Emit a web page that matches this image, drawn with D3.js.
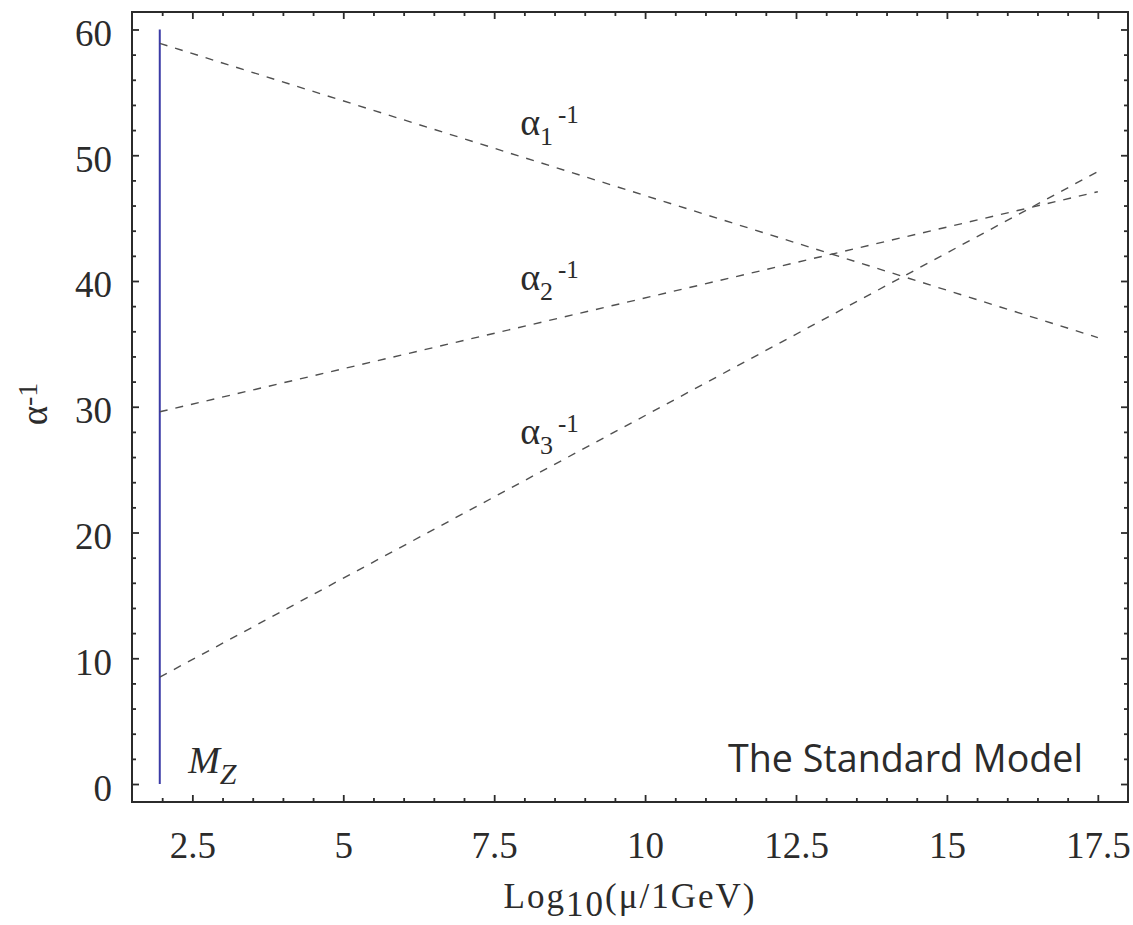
<!DOCTYPE html>
<html>
<head>
<meta charset="utf-8">
<script src="https://cdn.jsdelivr.net/npm/d3@7"></script>
<style>
  html, body { margin: 0; padding: 0; background: #ffffff; }
  svg { display: block; }
  .serif { font-family: "Liberation Serif", "Times New Roman", Times, serif; }
  .sans { font-family: "Open Sans", "Noto Sans", sans-serif; }
</style>
</head>
<body>
<script>
// ---------------- data ----------------
const scaleEnds = [1.96, 17.5];            // Log10(mu/1GeV) at M_Z and at the right end
const alpha1Inv = [58.9, 35.5];
const alpha2Inv = [29.6, 47.1];
const alpha3Inv = [8.5, 48.7];
const mzPosition = 1.96;
const mzRange = [0, 60];
const xMajorTicks = [2.5, 5, 7.5, 10, 12.5, 15, 17.5];
const yMajorTicks = [0, 10, 20, 30, 40, 50, 60];
const seriesLabels = [
  { sub: "1", x: 7.93, y: 51.6 },
  { sub: "2", x: 7.93, y: 39.3 },
  { sub: "3", x: 7.93, y: 27.0 }
];

// ---------------- layout ----------------
const W = 1133, H = 925;
const plot = { left: 132, top: 12, right: 1128, bottom: 802 };
const ink = "#2b2b2b";

const svg = d3.select("body").append("svg").attr("width", W).attr("height", H);

const x = d3.scaleLinear().domain([1.5, 18]).range([plot.left, plot.right]);
const y = d3.scaleLinear().domain([-1.43, 61.39]).range([plot.bottom, plot.top]);

const xMinor = d3.range(2, 17.51, 0.5).filter(v => !xMajorTicks.includes(v));
const yMinor = d3.range(0, 60.1, 2).filter(v => !yMajorTicks.includes(v));

function styleAxis(g) {
  g.attr("font-family", null).attr("font-size", null);
  g.select(".domain").remove();
  g.selectAll(".tick line").attr("stroke", ink).attr("stroke-width", 1.8);
  g.selectAll(".tick text").attr("fill", ink).attr("class", "serif").style("font-size", "37px");
}

// bottom
svg.append("g").attr("transform", `translate(0,${plot.bottom})`)
  .call(d3.axisBottom(x).tickValues(xMajorTicks).tickSize(-7).tickFormat(d3.format("")))
  .call(styleAxis)
  .call(g => g.selectAll(".tick text").attr("y", 56).attr("dy", 0));
svg.append("g").attr("transform", `translate(0,${plot.bottom})`)
  .call(d3.axisBottom(x).tickValues(xMinor).tickSize(-4).tickFormat(""))
  .call(styleAxis);
// top
svg.append("g").attr("transform", `translate(0,${plot.top})`)
  .call(d3.axisTop(x).tickValues(xMajorTicks).tickSize(-7).tickFormat(""))
  .call(styleAxis);
svg.append("g").attr("transform", `translate(0,${plot.top})`)
  .call(d3.axisTop(x).tickValues(xMinor).tickSize(-4).tickFormat(""))
  .call(styleAxis);
// left
svg.append("g").attr("transform", `translate(${plot.left},0)`)
  .call(d3.axisLeft(y).tickValues(yMajorTicks).tickSize(-7).tickPadding(20).tickFormat(d3.format("")))
  .call(styleAxis)
  .call(g => g.selectAll(".tick text").attr("dy", 16));
svg.append("g").attr("transform", `translate(${plot.left},0)`)
  .call(d3.axisLeft(y).tickValues(yMinor).tickSize(-4).tickFormat(""))
  .call(styleAxis);
// right
svg.append("g").attr("transform", `translate(${plot.right},0)`)
  .call(d3.axisRight(y).tickValues(yMajorTicks).tickSize(-7).tickFormat(""))
  .call(styleAxis);
svg.append("g").attr("transform", `translate(${plot.right},0)`)
  .call(d3.axisRight(y).tickValues(yMinor).tickSize(-4).tickFormat(""))
  .call(styleAxis);

// frame
svg.append("rect")
  .attr("x", plot.left).attr("y", plot.top)
  .attr("width", plot.right - plot.left).attr("height", plot.bottom - plot.top)
  .attr("fill", "none").attr("stroke", ink).attr("stroke-width", 2);

// M_Z vertical line
svg.append("line")
  .attr("x1", x(mzPosition)).attr("x2", x(mzPosition))
  .attr("y1", y(mzRange[0])).attr("y2", y(mzRange[1]))
  .attr("stroke", "#3b3ba6").attr("stroke-width", 2);

// running couplings
const line = d3.line().x(d => x(d[0])).y(d => y(d[1]));
[alpha1Inv, alpha2Inv, alpha3Inv].forEach(vals => {
  svg.append("path")
    .datum(scaleEnds.map((s, i) => [s, vals[i]]))
    .attr("d", line)
    .attr("fill", "none")
    .attr("stroke", "#505050")
    .attr("stroke-width", 1.4)
    .attr("stroke-dasharray", "8,8");
});

// series labels  alpha_i^-1
seriesLabels.forEach(l => {
  const t = svg.append("text").attr("class", "serif")
    .attr("x", x(l.x)).attr("y", y(l.y))
    .attr("fill", ink).style("font-size", "38px");
  t.append("tspan").text("α");
  t.append("tspan").style("font-size", "26px").attr("dy", 10).text(l.sub);
  t.append("tspan").style("font-size", "25px").attr("dx", 5).attr("dy", -22).text("-1");
});

// M_Z label
{
  const t = svg.append("text").attr("class", "serif")
    .attr("x", x(2.43)).attr("y", y(0.87))
    .attr("font-style", "italic").attr("fill", ink).style("font-size", "38px");
  t.append("tspan").text("M");
  t.append("tspan").style("font-size", "30px").attr("dy", 11).text("Z");
}

// The Standard Model
svg.append("text").attr("class", "sans")
  .attr("x", 1083).attr("y", 772)
  .attr("text-anchor", "end")
  .style("font-size", "38px")
  .attr("fill", ink)
  .attr("textLength", 355)
  .attr("lengthAdjust", "spacingAndGlyphs")
  .text("The Standard Model");

// x axis title
{
  const t = svg.append("text").attr("class", "serif")
    .attr("x", (plot.left + plot.right) / 2).attr("y", 908)
    .attr("text-anchor", "middle")
    .attr("fill", ink).style("font-size", "35px")
    .attr("letter-spacing", 2);
  t.append("tspan").text("Log");
  t.append("tspan").attr("dy", 8).text("10");
  t.append("tspan").attr("dy", -8).text("(μ/1GeV)");
}

// y axis title
{
  const t = svg.append("text").attr("class", "serif")
    .attr("transform", `translate(47,${(plot.top + plot.bottom) / 2 - 3}) rotate(-90)`)
    .attr("text-anchor", "middle")
    .attr("fill", ink).style("font-size", "37px");
  t.append("tspan").text("α");
  t.append("tspan").style("font-size", "28px").attr("dy", -10).text("-1");
}
</script>
</body>
</html>
